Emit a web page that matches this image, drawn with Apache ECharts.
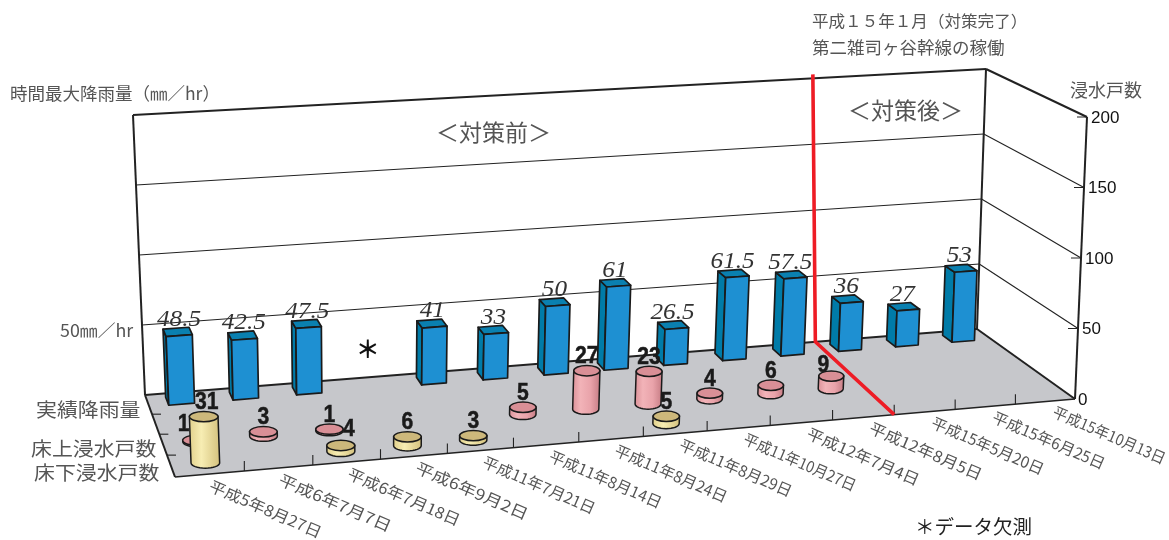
<!DOCTYPE html>
<html><head><meta charset="utf-8">
<style>html,body{margin:0;padding:0;background:#fff}#c{width:1169px;height:540px}</style>
<script src="https://cdn.jsdelivr.net/npm/echarts@6/dist/echarts.min.js"></script>
</head><body><div id="c"></div>
<script>
const categories = ['平成5年8月27日','平成6年7月7日','平成6年7月18日','平成6年9月2日','平成11年7月21日','平成11年8月14日','平成11年8月24日','平成11年8月29日','平成11年10月27日','平成12年7月4日','平成12年8月5日','平成15年5月20日','平成15年6月25日','平成15年10月13日'];
const rainfall = [48.5,42.5,47.5,null,41,33,50,61,26.5,61.5,57.5,36,27,53];
const floorAbove = [1,3,1,null,null,5,27,23,4,6,9,null,null,null];
const floorBelow = [31,null,4,6,3,null,null,5,null,null,null,null,null,null];
const depthBands = ['実績降雨量','','床上浸水戸数','床下浸水戸数'];
const valueTicks = [0,50,100,150,200];
const measureAfter = 11; // 対策完了 falls between category 11 and 12

const W = 1169, H = 540, VMAX = 200;
const FONT = '"Noto Sans CJK JP","Noto Sans",sans-serif';
function quad(p){ // unit square -> quad (order: back-left, back-right, front-right, front-left)
  const [[x0,y0],[x1,y1],[x2,y2],[x3,y3]] = p;
  const dx1=x1-x2,dx2=x3-x2,sx=x0-x1+x2-x3,dy1=y1-y2,dy2=y3-y2,sy=y0-y1+y2-y3;
  const d=dx1*dy2-dx2*dy1, g=(sx*dy2-dx2*sy)/d, h=(dx1*sy-sx*dy1)/d;
  const a=x1-x0+g*x1,b=x3-x0+h*x3,c=x0,e=y1-y0+g*y1,f=y3-y0+h*y3,i=y0;
  return (s,t)=>{const q=g*s+h*t+1;return [(a*s+b*t+c)/q,(e*s+f*t+i)/q];};
}
const floorQ = quad([[145,395],[977,329],[1075,399],[175,477]]);
const topQ   = quad([[133,115],[986,69],[1087,117],[162,174]]);
function P(s,t,v){
  const a=floorQ(s,t), b=topQ(s,t), k=v/VMAX;
  return [a[0]+(b[0]-a[0])*k, a[1]+(b[1]-a[1])*k];
}
const line=(a,b,w,c)=>({type:'line',shape:{x1:a[0],y1:a[1],x2:b[0],y2:b[1]},style:{stroke:c||'#222',lineWidth:w}});
const txt=(t,x,y,o)=>{o=o||{};return {type:'text',x:x,y:y,rotation:o.rot||0,scaleX:o.sx||1,z2:o.z2||0,style:Object.assign({text:t,fill:'#555',font:'16px '+FONT,align:'left',verticalAlign:'middle'},o.style)};};
const mctx=document.createElement('canvas').getContext('2d');
const LABEL_FONT='15.5px '+FONT, LABEL_LEN=121;
function labelScale(t){mctx.font=LABEL_FONT;return LABEL_LEN/mctx.measureText(t).width;}

function frame(params,api){
  const n=categories.length, ch=[];
  ch.push({type:'polygon',shape:{points:[P(0,0,0),P(1,0,0),P(1,1,0),P(0,1,0)]},style:{fill:'#c6c7cb',stroke:'none'}});
  valueTicks.slice(1).forEach(v=>{
    const w=v===VMAX?2:1.1;
    ch.push(line(P(0,0,v),P(1,0,v),w));
    ch.push(line(P(1,0,v),P(1,1,v),w));
    const q=P(1,1,v); ch.push(line([q[0]-10,q[1]],q,1));
  });
  ch.push(line(P(0,0,0),P(1,0,0),2));
  ch.push(line(P(0,0,0),P(0,0,VMAX),2));
  ch.push(line(P(1,0,0),P(1,0,VMAX),2));
  ch.push(line(P(1,1,0),P(1,1,VMAX),2));
  ch.push(line(P(0,0,0),P(0,1,0),2));
  ch.push(line(P(1,0,0),P(1,1,0),2));
  ch.push(line(P(0,1,0),P(1,1,0),1.7));
  for(let i=1;i<n;i++){const a=P(i/n,1,0);ch.push(line(a,[a[0],a[1]-10],1.1));}
  for(let d=1;d<depthBands.length;d++){const a=P(0,d/4,0);ch.push(line(a,[a[0]+9,a[1]],1.1));}
  valueTicks.forEach(v=>{const q=P(1,1,v);ch.push(txt(String(v),q[0]+(v?4:3),q[1]+1,{style:{fill:'#111',font:'17px "Liberation Sans",Arial,sans-serif'}}));});
  return {type:'group',children:ch};
}
const flat=(api,i,v)=>{const p=api.coord([i,v]);return [p[0]/W,(H-p[1])/H*VMAX];};

function rainBar(params,api){
  const i=api.value(0), v=api.value(1);
  const [s]=flat(api,i,0), hs=api.size([1,0])[0]/W*.2;
  const t0=.05,t1=.155, ch=[];
  if(isNaN(v)){const q=P(s,.125,27);return {type:'text',x:q[0]-3,y:q[1],style:{text:'＊',fill:'#111',font:'bold 24px '+FONT,align:'center',verticalAlign:'middle'}};}
  const [,h]=flat(api,i,v);
  const stroke={stroke:'#1a1a1a',lineWidth:1.7,lineJoin:'round'};
  const l=s-hs,r=s+hs;
  ch.push({type:'polygon',shape:{points:[P(l,t1,0),P(l,t0,0),P(l,t0,h),P(l,t1,h)]},style:Object.assign({fill:'#007ba8'},stroke)});
  ch.push({type:'polygon',shape:{points:[P(l,t1,h),P(l,t0,h),P(r,t0,h),P(r,t1,h)]},style:Object.assign({fill:'#0a80b0'},stroke)});
  ch.push({type:'polygon',shape:{points:[P(l,t1,0),P(r,t1,0),P(r,t1,h),P(l,t1,h)]},style:Object.assign({fill:'#1e90d2'},stroke)});
  const q=P(s,t0,h);
  ch.push(txt(String(v),q[0]+3,q[1]-9,{z2:5,sx:1.05,style:{text:String(v),font:'italic 24px "Liberation Serif",serif',fill:'#333',align:'center'}}));
  return {type:'group',children:ch};
}
function cylinder(band,side,topFill,nudge){
  return function(params,api){
    const i=api.value(0), v=api.value(1);
    const [s]=flat(api,i,0), [,h]=flat(api,i,v), t=(band+.5)/4, w=api.size([1,0])[0]/W;
    const B=P(s,t,0), T=P(s,t,h), rx=.21*(P(s+w,t,0)[0]-B[0]), ry=5.2, pts=[];
    for(let k=0;k<=16;k++){const a=Math.PI*k/16;pts.push([B[0]+rx*Math.cos(a),B[1]+ry*Math.sin(a)]);}
    pts.push([T[0]-rx,T[1]],[T[0]+rx,T[1]]);
    const n=nudge[i]||[0,0];
    return {type:'group',children:[
      {type:'polygon',shape:{points:pts},style:{fill:{type:'linear',x:0,y:0,x2:1,y2:0,colorStops:side},stroke:'#1a1a1a',lineWidth:1.5}},
      {type:'ellipse',shape:{cx:T[0],cy:T[1],rx:rx,ry:ry},style:{fill:topFill,stroke:'#1a1a1a',lineWidth:1.5}},
      txt(String(v),T[0]+n[0],T[1]-14+n[1],{z2:10,sx:.88,style:{text:String(v),font:'bold 24px "Liberation Sans",Arial,sans-serif',fill:'#1a1a1a',stroke:'#1a1a1a',lineWidth:.5,align:'center'}})
    ]};
  };
}
function axisLabel(params,api){
  const i=api.value(0), [s]=flat(api,i,0), q=P(s,1.12,0);
  return txt(categories[i],q[0]-4,q[1],{rot:-0.41,sx:labelScale(categories[i]),style:{text:categories[i],font:LABEL_FONT,fill:'#555'}});
}
function redLine(params,api){
  const s=(flat(api,measureAfter-1,0)[0]+flat(api,measureAfter,0)[0])/2;
  return {type:'polyline',shape:{points:[P(s-.008,0,203),P(s+.008,0,0),P(s,1,0)]},style:{stroke:'#ee1c25',lineWidth:3.6,fill:'none'}};
}
const pts=a=>a.map((v,i)=>[i,v]).filter(d=>d[1]!==null);
const pinkSide=[{offset:0,color:'#d98f96'},{offset:.3,color:'#f2b3b8'},{offset:.65,color:'#e9a3aa'},{offset:1,color:'#c47a82'}];
const yellowSide=[{offset:0,color:'#e0cf8a'},{offset:.4,color:'#f7edb3'},{offset:1,color:'#d3c07c'}];
const base={type:'custom',coordinateSystem:'cartesian2d',silent:true,clip:false,animation:false};
const note=(t,x,y,size,sx,fill)=>txt(t,x,y,{sx:sx,style:{text:t,font:size+'px '+FONT,fill:fill||'#555'}});

const chart=echarts.init(document.getElementById('c'),null,{renderer:'canvas'});
chart.setOption({
  animation:false,
  grid:{left:0,right:0,top:0,bottom:0,containLabel:false},
  xAxis:{type:'category',data:categories,show:false,boundaryGap:true},
  yAxis:{type:'value',min:0,max:VMAX,interval:50,show:false},
  series:[
    Object.assign({},base,{name:'frame',renderItem:frame,data:[[0,0]]}),
    Object.assign({},base,{name:'対策',renderItem:redLine,data:[[0,0]],z:3}),
    Object.assign({},base,{name:'実績降雨量',renderItem:rainBar,data:rainfall.map((v,i)=>[i,v===null?NaN:v]),z:2}),
    Object.assign({},base,{name:'床上浸水戸数',renderItem:cylinder(2,pinkSide,'#d98f96',{0:[-13,-2],10:[-8,3]}),data:pts(floorAbove),z:4}),
    Object.assign({},base,{name:'床下浸水戸数',renderItem:cylinder(3,yellowSide,'#cdb87b',{0:[3,0],2:[8,-2]}),data:pts(floorBelow),z:5}),
    Object.assign({},base,{name:'labels',renderItem:axisLabel,data:categories.map((c,i)=>[i,0]),z:6})
  ],
  graphic:[
    note('平成１５年１月（対策完了）',812,21,16,1.035),
    note('第二雑司ヶ谷幹線の稼働',812,47,17.5,1),
    note('時間最大降雨量（㎜／hr）',10,93,17.5,1),
    note('浸水戸数',1070,90,18,1),
    note('50㎜／hr',60,331,17,1.05),
    note('実績降雨量',36,410,19,1.1),
    note('床上浸水戸数',31,449,19,1.1),
    note('床下浸水戸数',34,473,19,1.1),
    note('＜対策前＞',436,132,23,1),
    note('＜対策後＞',848,110,23,1),
    note('＊データ欠測',915,527,19.5,1,'#222')
  ]
});
</script></body></html>
